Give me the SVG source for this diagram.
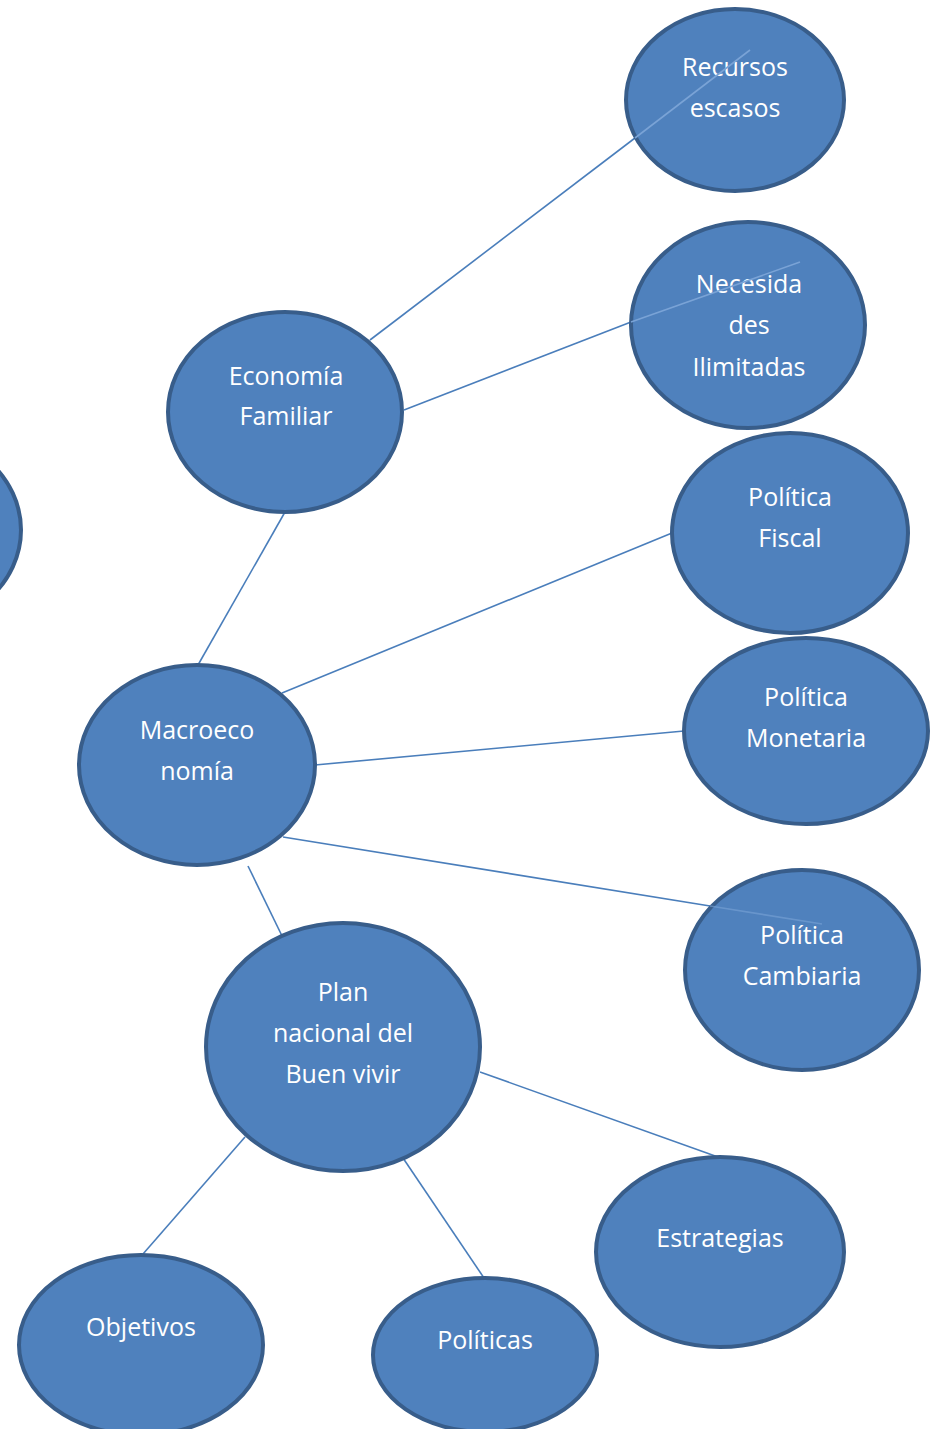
<svg xmlns="http://www.w3.org/2000/svg" width="942" height="1429" viewBox="0 0 942 1429">
<style>
.n{fill:#4F81BD;stroke:#385D8A;stroke-width:4}
.t{fill:#ffffff;font-family:"Open Sans","Noto Sans",sans-serif;font-size:25px;text-anchor:middle}
.c{stroke:#4A7EBB;stroke-width:1.6;fill:none}
.ci{stroke:#7AA3D6;stroke-width:1.6;fill:none}
</style>
<rect width="942" height="1429" fill="#ffffff"/>
<g id="connectors-back">
<line class="c" x1="370" y1="340" x2="635" y2="138"/>
<line class="c" x1="404" y1="410" x2="631" y2="322"/>
<line class="c" x1="285" y1="512" x2="198" y2="665"/>
<line class="c" x1="282" y1="693" x2="672" y2="533"/>
<line class="c" x1="315" y1="765" x2="684" y2="731"/>
<line class="c" x1="283" y1="837" x2="710" y2="906"/>
<line class="c" x1="248" y1="866" x2="284" y2="940"/>
<line class="c" x1="480" y1="1072" x2="718" y2="1157"/>
<line class="c" x1="245" y1="1137" x2="143" y2="1254"/>
<line class="c" x1="403" y1="1158" x2="484" y2="1278"/>
</g>
<g id="node-left"><ellipse class="n" cx="-96" cy="530" rx="117" ry="100"/></g>
<g id="node-recursos"><ellipse class="n" cx="735" cy="100" rx="109" ry="91"/>
<text class="t" x="735" y="76">Recursos</text><text class="t" x="735" y="117">escasos</text></g>
<g id="node-necesidades"><ellipse class="n" cx="748" cy="325" rx="117" ry="103"/>
<text class="t" x="749" y="293">Necesida</text><text class="t" x="749" y="334">des</text><text class="t" x="749" y="376">Ilimitadas</text></g>
<g id="node-economia"><ellipse class="n" cx="285" cy="412" rx="117" ry="100"/>
<text class="t" x="286" y="385">Economía</text><text class="t" x="286" y="425">Familiar</text></g>
<g id="node-fiscal"><ellipse class="n" cx="790" cy="533" rx="118" ry="100"/>
<text class="t" x="790" y="506">Política</text><text class="t" x="790" y="547">Fiscal</text></g>
<g id="node-monetaria"><ellipse class="n" cx="806" cy="731" rx="122" ry="93"/>
<text class="t" x="806" y="706">Política</text><text class="t" x="806" y="747">Monetaria</text></g>
<g id="node-macro"><ellipse class="n" cx="197" cy="765" rx="118" ry="100"/>
<text class="t" x="197" y="739">Macroeco</text><text class="t" x="197" y="780">nomía</text></g>
<g id="node-cambiaria"><ellipse class="n" cx="802" cy="970" rx="117" ry="100"/>
<text class="t" x="802" y="944">Política</text><text class="t" x="802" y="985">Cambiaria</text></g>
<g id="node-plan"><ellipse class="n" cx="343" cy="1047" rx="137" ry="124"/>
<text class="t" x="343" y="1001">Plan</text><text class="t" x="343" y="1042">nacional del</text><text class="t" x="343" y="1083">Buen vivir</text></g>
<g id="node-estrategias"><ellipse class="n" cx="720" cy="1252" rx="124" ry="95"/>
<text class="t" x="720" y="1247">Estrategias</text></g>
<g id="node-objetivos"><ellipse class="n" cx="141" cy="1345" rx="122" ry="90"/>
<text class="t" x="141" y="1336">Objetivos</text></g>
<g id="node-politicas"><ellipse class="n" cx="485" cy="1355" rx="112" ry="77"/>
<text class="t" x="485" y="1349">Políticas</text></g>
<g id="connectors-over">
<line class="ci" x1="635" y1="138" x2="750" y2="50"/>
<line class="ci" x1="631" y1="322" x2="800" y2="262"/>
<line class="ci" x1="710" y1="906" x2="822" y2="924" stroke-opacity="0.6"/>
</g>
</svg>
